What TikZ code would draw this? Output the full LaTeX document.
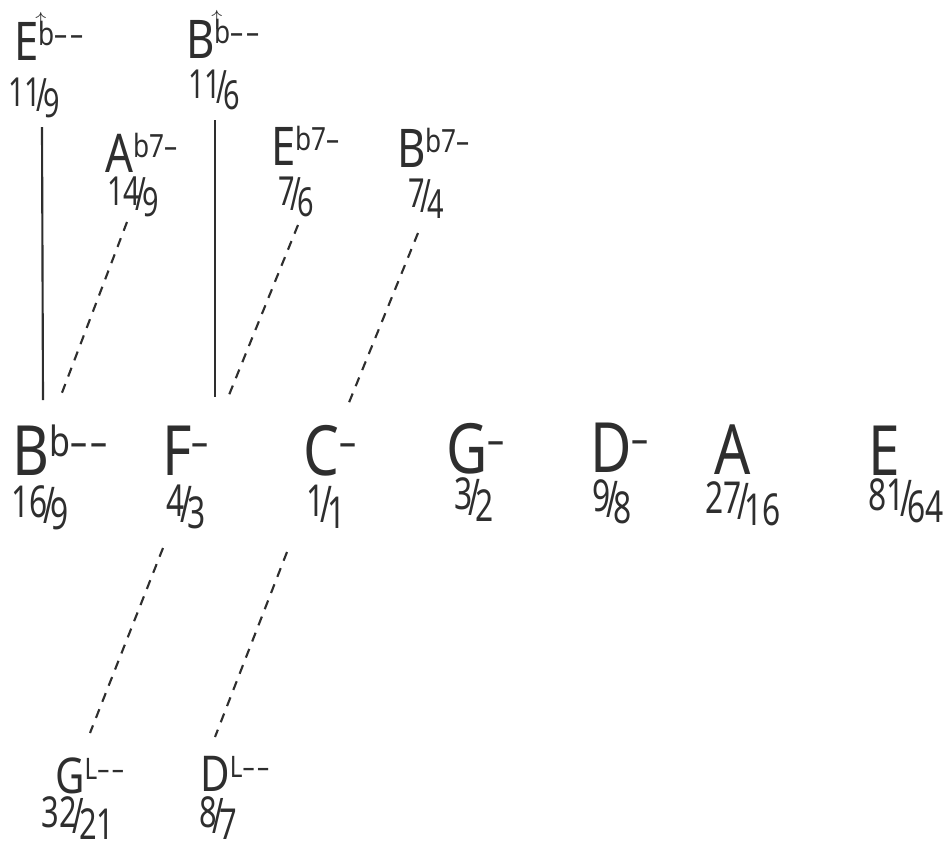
\documentclass[tikz,border=0pt]{standalone}
\usepackage{fontspec}
\setmainfont{Noto Sans}[FakeStretch=0.82]
\definecolor{ink}{HTML}{2E2E2E}
\newcommand\sups[1]{\raisebox{0.27em}{\scalebox{0.6}{#1}}}
\newcommand\dd{\textendash\kern0.08em\textendash}
\newcommand\bup{\rlap{\raisebox{0.58em}{\kern-0.1em\scalebox{1.1}{$\uparrow$}}}b}
\newcommand\rat[2]{\scalebox{0.88}[1]{\raisebox{0.12em}{#1}\kern-0.12em\raisebox{-0.02em}{\scalebox{1}[1.15]{/}}\kern-0.12em\raisebox{-0.15em}{#2}}}
\begin{document}
\begin{tikzpicture}[x=0.75pt,y=-0.75pt,
  every node/.style={inner sep=0pt,text=ink},
  toprow/.style={anchor=base west,font=\fontsize{40}{40}\selectfont},
  midrow/.style={anchor=base west,font=\fontsize{52}{52}\selectfont},
  botrow/.style={anchor=base west,font=\fontsize{37}{37}\selectfont},
  topratio/.style={anchor=base,font=\fontsize{30}{30}\selectfont},
  midratio/.style={anchor=base,font=\fontsize{33}{33}\selectfont},
  botratio/.style={anchor=base,font=\fontsize{32}{32}\selectfont},
  solidlink/.style={draw=ink,line width=1.6pt},
  dashlink/.style={draw=ink,line width=1.6pt,dash pattern=on 7pt off 6pt}]
\useasboundingbox (0,0) rectangle (946,850);
% top row
\node[toprow] (nEup) at (14,60) {E\sups{\bup\dd}};
\node[toprow] (nBup) at (186,58) {B\sups{\bup\dd}};
\node[toprow] (nAb7) at (105,172) {A\sups{b7\textendash}};
\node[toprow] (nEb7) at (271,165) {E\sups{b7\textendash}};
\node[toprow] (nBb7) at (397,167) {B\sups{b7\textendash}};
\node[topratio] (r119) at (34,111) {\rat{11}{9}};
\node[topratio] (r116) at (214,103) {\rat{11}{6}};
\node[topratio] (r149) at (133,210) {\rat{14}{9}};
\node[topratio] (r76) at (296,210) {\rat{7}{6}};
\node[topratio] (r74) at (426,212) {\rat{7}{4}};
% middle row
\node[midrow] (nBb) at (12,475) {B\sups{b\dd}};
\node[midrow] (nF) at (162,475) {F\sups{\textendash}};
\node[midrow] (nC) at (303,475) {C\sups{\textendash}};
\node[midrow] (nG) at (446,473) {G\sups{\textendash}};
\node[midrow] (nD) at (590,472) {D\sups{\textendash}};
\node[midrow] (nA) at (714,474) {A};
\node[midrow] (nE) at (868,475) {E};
\node[midratio] (r169) at (40,523) {\rat{16}{9}};
\node[midratio] (r43) at (186,522) {\rat{4}{3}};
\node[midratio] (r11) at (326,522) {\rat{1}{1}};
\node[midratio] (r32) at (474,515) {\rat{3}{2}};
\node[midratio] (r98) at (612,517) {\rat{9}{8}};
\node[midratio] (r2716) at (743,519) {\rat{27}{16}};
\node[midratio] (r8164) at (906,516) {\rat{81}{64}};
% bottom row
\node[botrow] (nGL) at (55,793) {G\sups{L\dd}};
\node[botrow] (nDL) at (200,791) {D\sups{L\dd}};
\node[botratio] (r3221) at (78,833) {\rat{32}{21}};
\node[botratio] (r87) at (218,833) {\rat{8}{7}};
% connector ends
\coordinate (a1) at (42,127);  \coordinate (b1) at (43,400);
\coordinate (a2) at (215,120); \coordinate (b2) at (215,397);
\coordinate (a3) at (127,222); \coordinate (b3) at (60,398);
\coordinate (a4) at (298,225); \coordinate (b4) at (229,395);
\coordinate (a5) at (418,233); \coordinate (b5) at (348,405);
\coordinate (a6) at (163,548); \coordinate (b6) at (90,733);
\coordinate (a7) at (287,552); \coordinate (b7) at (215,737);
\draw[solidlink] (a1) -- (b1);
\draw[solidlink] (a2) -- (b2);
\draw[dashlink] (a3) -- (b3);
\draw[dashlink] (a4) -- (b4);
\draw[dashlink] (a5) -- (b5);
\draw[dashlink] (a6) -- (b6);
\draw[dashlink] (a7) -- (b7);
\end{tikzpicture}
\end{document}
